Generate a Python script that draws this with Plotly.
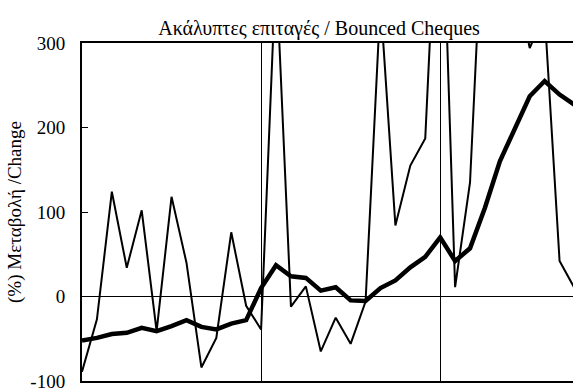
import plotly.graph_objects as go

# monthly observations, index 0..33 (vertical grid marks every 12 months)
months = list(range(34))

monthly_change = [-89, -27, 124, 34, 102, -41, 118, 40, -84, -49, 76, -11,
                  -39, 390, -12, 12, -65, -25, -56, -6, 350, 84, 155, 187,
                  560, 11, 135, 505, 420, 380, 294, 335, 42, 10]

trend_change = [-52, -49, -44.5, -43, -37, -41, -35, -28, -36, -39, -32, -28,
                10, 37, 24, 22, 7, 11, -4.6, -5.4, 10, 19, 34.5, 47,
                70, 42, 57, 105, 160, 200, 237, 255, 239, 227]

y_ticks = [-100, 0, 100, 200, 300]
y_tick_text = ["-100", "0", "100", "200", "300"]

font_name = "Liberation Serif"

fig = go.Figure()

fig.add_trace(go.Scatter(x=months, y=monthly_change, mode='lines',
                         line=dict(color='black', width=2),
                         showlegend=False, hoverinfo='skip'))
fig.add_trace(go.Scatter(x=months, y=trend_change, mode='lines',
                         line=dict(color='black', width=4.5),
                         showlegend=False, hoverinfo='skip'))

fig.update_layout(
    width=573, height=392,
    margin=dict(l=82, r=0, t=43, b=8),
    plot_bgcolor='white', paper_bgcolor='white',
    font=dict(family=font_name, color='black', size=19),
    title=dict(text='Ακάλυπτες επιταγές / Bounced Cheques',
               font=dict(family=font_name, size=20, color='black'),
               x=319 / 573, xanchor='center', xref='container',
               y=1 - 28 / 392, yanchor='middle', yref='container'),
    xaxis=dict(range=[0, 32.9], showticklabels=False, ticks='',
               showgrid=True, gridcolor='black', gridwidth=1,
               tick0=0, dtick=12, zeroline=False,
               showline=True, linecolor='black', linewidth=2, mirror=True),
    yaxis=dict(range=[-100, 300], tickvals=y_ticks, ticktext=y_tick_text,
               ticks='inside', ticklen=6, tickcolor='black',
               tickfont=dict(family=font_name, size=19, color='black'),
               ticklabelstandoff=11, ticklabeloverflow='allow',
               showgrid=False, zeroline=True, zerolinecolor='black',
               zerolinewidth=1,
               showline=True, linecolor='black', linewidth=2,
               title=dict(text='(%) Μεταβολή /Change',
                          font=dict(family=font_name, size=19, color='black'),
                          standoff=4)),
)

# page body has a default 8px margin; drop it so the figure fills the window
fig.write_html("out.html", config={'displayModeBar': False},
               post_script="document.body.style.margin='0';")
